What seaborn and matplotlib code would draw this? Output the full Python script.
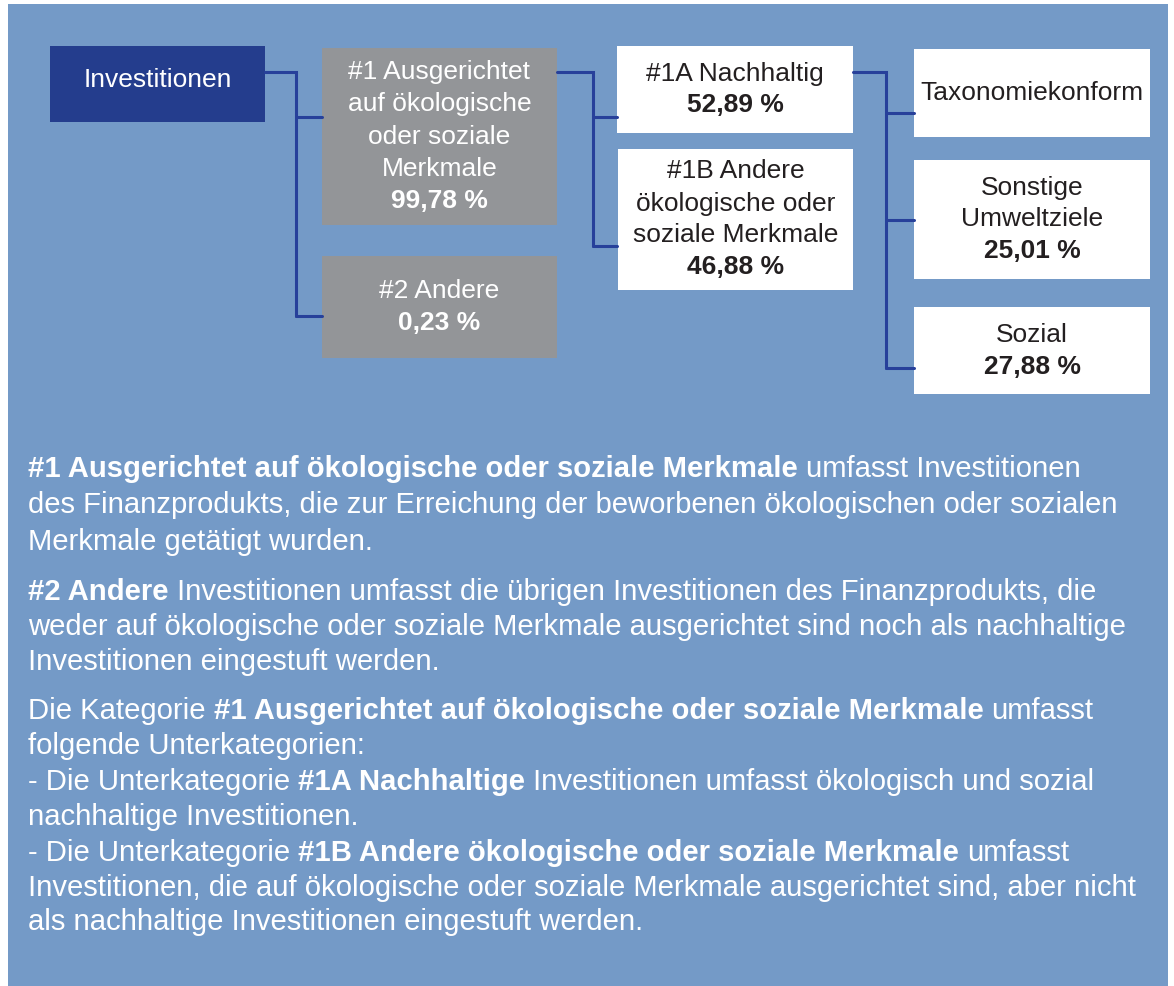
import matplotlib.pyplot as plt
import numpy as np
import seaborn as sns

# box labels and shares (nan = no share shown)
box_names = ['Investitionen',
             '#1 Ausgerichtet\nauf ökologische\noder soziale\nMerkmale',
             '#2 Andere',
             '#1A Nachhaltig',
             '#1B Andere\nökologische oder\nsoziale Merkmale',
             'Taxonomiekonform',
             'Sonstige\nUmweltziele',
             'Sozial']
box_shares = [np.nan, 99.78, 0.23, 52.89, 46.88, np.nan, 25.01, 27.88]
box_kind = ['root', 'grey', 'grey', 'white', 'white', 'white', 'white', 'white']

# explanatory text, one list per paragraph, each line is (bold, text) segments
para1 = [[(True, '#1 Ausgerichtet auf ökologische oder soziale Merkmale'), (False, ' umfasst Investitionen')],
         [(False, 'des Finanzprodukts, die zur Erreichung der beworbenen ökologischen oder sozialen')],
         [(False, 'Merkmale getätigt wurden.')]]
para2 = [[(True, '#2 Andere'), (False, ' Investitionen umfasst die übrigen Investitionen des Finanzprodukts, die')],
         [(False, 'weder auf ökologische oder soziale Merkmale ausgerichtet sind noch als nachhaltige')],
         [(False, 'Investitionen eingestuft werden.')]]
para3 = [[(False, 'Die Kategorie '), (True, '#1 Ausgerichtet auf ökologische oder soziale Merkmale'), (False, ' umfasst')],
         [(False, 'folgende Unterkategorien:')],
         [(False, '- Die Unterkategorie '), (True, '#1A Nachhaltige'), (False, ' Investitionen umfasst ökologisch und sozial')],
         [(False, 'nachhaltige Investitionen.')],
         [(False, '- Die Unterkategorie '), (True, '#1B Andere ökologische oder soziale Merkmale'), (False, ' umfasst')],
         [(False, 'Investitionen, die auf ökologische oder soziale Merkmale ausgerichtet sind, aber nicht')],
         [(False, 'als nachhaltige Investitionen eingestuft werden.')]]

# layout (pixels, y downwards): x0, y0, x1, y1
box_pos = [(50, 46, 265, 122), (322, 48, 557, 225), (322, 256, 557, 358),
           (617, 46, 853, 133), (618, 149, 853, 290),
           (914, 49, 1150, 137), (914, 160, 1150, 279), (914, 307, 1150, 394)]
# connectors: (x_from, x_trunk, x_to, y_start, branch ys)
connectors = [(265, 296, 322, 72, [117, 316]),
              (557, 593, 617, 72, [117, 246]),
              (853, 886, 914, 72, [113, 220, 368])]
para_lines_y = [[467, 503, 540], [590, 625, 660], [709, 744, 780, 815, 851, 886, 920]]

sns.set_theme(style='white')
plt.rcParams['font.family'] = ['Liberation Sans', 'DejaVu Sans']

panel_col = '#749ac7'
root_col = '#243d8d'
grey_col = '#939598'
line_col = '#27409a'
dark_txt = '#231f20'
fs_box = 19
fs_body = 21.1
line_h = 32

fig = plt.figure(figsize=(11.74, 9.86), dpi=100)
ax = fig.add_axes([0, 0, 1, 1])
ax.set_xlim(0, 1174)
ax.set_ylim(986, 0)
ax.axis('off')

ax.add_patch(plt.Rectangle((8, 4), 1160, 990, color=panel_col, lw=0))

# connector lines
for x_from, x_trunk, x_to, y0, branches in connectors:
    ax.plot([x_from, x_trunk, x_trunk], [y0, y0, max(branches)], color=line_col, lw=2.2,
            solid_joinstyle='miter')
    for yb in branches:
        ax.plot([x_trunk, x_to], [yb, yb], color=line_col, lw=2.2)

# boxes
fills = {'root': root_col, 'grey': grey_col, 'white': 'white'}
text_cols = {'root': 'white', 'grey': 'white', 'white': dark_txt}
for name, share, kind, (x0, y0, x1, y1) in zip(box_names, box_shares, box_kind, box_pos):
    ax.add_patch(plt.Rectangle((x0, y0), x1 - x0, y1 - y0, color=fills[kind], lw=0))
    lines = [(l, 'normal') for l in name.split('\n')]
    if not np.isnan(share):
        lines.append((f'{share:.2f}'.replace('.', ',') + ' %', 'bold'))
    cx, cy = (x0 + x1) / 2, (y0 + y1) / 2
    if kind == 'root':
        cy -= 4
    n = len(lines)
    for i, (txt, wt) in enumerate(lines):
        ax.text(cx, cy + (i - (n - 1) / 2) * line_h, txt, ha='center', va='center',
                fontsize=fs_box, fontweight=wt, color=text_cols[kind])

# paragraphs with mixed bold / regular segments
renderer = fig.canvas.get_renderer()


def text_width(s, wt):
    t = ax.text(0, 0, s, fontsize=fs_body, fontweight=wt)
    w = t.get_window_extent(renderer=renderer).width
    t.remove()
    return w


space_w = {wt: text_width('x x', wt) - text_width('xx', wt) for wt in ('normal', 'bold')}

for para, ys in zip([para1, para2, para3], para_lines_y):
    for segs, yc in zip(para, ys):
        x = 28
        for bold, s in segs:
            wt = 'bold' if bold else 'normal'
            lead = len(s) - len(s.lstrip(' '))
            trail = len(s) - len(s.rstrip(' '))
            x += lead * space_w[wt]
            core = s.strip(' ')
            ax.text(x, yc + 10, core, ha='left', va='baseline', fontsize=fs_body,
                    fontweight=wt, color='white')
            x += text_width(core, wt) + trail * space_w[wt]

fig.savefig('out.png', dpi=100)
